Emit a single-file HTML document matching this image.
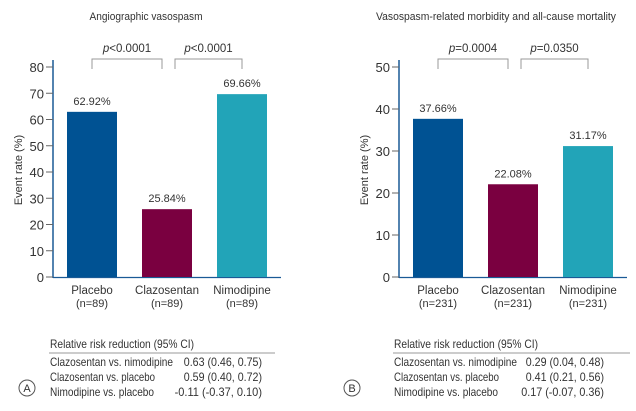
<!DOCTYPE html>
<html><head><meta charset="utf-8"><style>
body{margin:0;background:#fff;font-family:"Liberation Sans",sans-serif;}
svg text{font-family:"Liberation Sans",sans-serif;fill:#333;}
</style></head><body>
<svg id="s" width="636" height="406" xmlns="http://www.w3.org/2000/svg"></svg>
<script>
const categories=["Placebo","Clazosentan","Nimodipine"];
const nA=["(n=89)","(n=89)","(n=89)"];
const nB=["(n=231)","(n=231)","(n=231)"];
const valuesA=[62.92,25.84,69.66];
const valuesB=[37.66,22.08,31.17];
const ticksA=[0,10,20,30,40,50,60,70,80];
const ticksB=[0,10,20,30,40,50];
const pA=["p<0.0001","p<0.0001"];
const pB=["p=0.0004","p=0.0350"];
const rowsLabels=["Clazosentan vs. nimodipine","Clazosentan vs. placebo","Nimodipine vs. placebo"];
const rowsA=["0.63 (0.46, 0.75)","0.59 (0.40, 0.72)","-0.11 (-0.37, 0.10)"];
const rowsB=["0.29 (0.04, 0.48)","0.41 (0.21, 0.56)","0.17 (-0.07, 0.36)"];
const colors=["#005293","#7a0040","#22a4b8"];
const svg=document.getElementById('s');
const NS="http://www.w3.org/2000/svg";
function el(t,a,txt){const e=document.createElementNS(NS,t);for(const k in a)e.setAttribute(k,a[k]);if(txt!=null)e.textContent=txt;svg.appendChild(e);return e;}
function panel(o){
 const y=v=>277-(v/o.max)*210;
 const xs=[o.ax+14,o.ax+89,o.ax+164];
 const bw=50;
 let t=el('text',{x:o.titleX,y:20,'font-size':11,'text-anchor':'middle',textLength:o.titleW,lengthAdjust:'spacingAndGlyphs'},o.title);
 
 let a=el('line',{x1:o.ax,y1:60,x2:o.ax,y2:278,stroke:'#1a5a96','stroke-width':1.5});
 
 let xa=el('line',{x1:o.ax,y1:277.5,x2:o.ax+228,y2:277.5,stroke:'#1a5a96','stroke-width':1.2});
 
 o.ticks.forEach(v=>{
  let l=el('line',{x1:o.ax-7,y1:y(v),x2:o.ax,y2:y(v),stroke:'#666','stroke-width':1});
  
  let tt=el('text',{x:o.ax-9,y:y(v)+5,'font-size':13,'text-anchor':'end'},v);
  
 });
 let yl=el('text',{x:0,y:0,'font-size':11,'text-anchor':'middle',transform:`translate(${o.ax-31},170) rotate(-90)`},'Event rate (%)');
 
 o.vals.forEach((v,i)=>{
  let r=el('rect',{x:xs[i],y:y(v),width:bw,height:277-y(v),fill:colors[i]});
  
  let vt=el('text',{x:xs[i]+bw/2,y:y(v)-7,'font-size':11,'text-anchor':'middle'},v.toFixed(2)+'%');
  
  let c=el('text',{x:xs[i]+bw/2,y:294,'font-size':11.5,'text-anchor':'middle'},categories[i]);
  
  let n=el('text',{x:xs[i]+bw/2,y:307,'font-size':11,'text-anchor':'middle'},o.n[i]);
  
 });
 [[0,1],[1,2]].forEach((p,k)=>{
  const x1=xs[p[0]]+bw/2+(k==1?8:0), x2=xs[p[1]]+bw/2-(k==0?5:0);
  let b=el('polyline',{points:`${x1},69 ${x1},59 ${x2},59 ${x2},69`,fill:'none',stroke:'#999','stroke-width':1});
  
  const s=o.p[k];
  let pt=el('text',{x:(x1+x2)/2,y:52,'font-size':11.5,'text-anchor':'middle'});
  
  const i1=document.createElementNS(NS,'tspan');i1.setAttribute('font-style','italic');i1.textContent='p';pt.appendChild(i1);
  const i2=document.createElementNS(NS,'tspan');i2.textContent=s.slice(1);pt.appendChild(i2);
 });
 let h=el('text',{x:o.tx,y:348,'font-size':12,textLength:144,lengthAdjust:'spacingAndGlyphs'},'Relative risk reduction (95% CI)');
 
 let hl=el('line',{x1:o.tx-1,y1:353,x2:o.tx+o.tw,y2:353,stroke:'#999','stroke-width':1});
 
 rowsLabels.forEach((r,i)=>{
  const lw=[123,105,104][i];
  let a1=el('text',{x:o.tx,y:366+i*15,'font-size':12,textLength:lw,lengthAdjust:'spacingAndGlyphs'},r);
  
  const vw=o.rows[i].length*4.6;
  let a2=el('text',{x:o.vx,y:366+i*15,'font-size':12,'text-anchor':'end',textLength:vw,lengthAdjust:'spacingAndGlyphs'},o.rows[i]);
  
 });
 let c=el('circle',{cx:o.cx,cy:388,r:8,fill:'none',stroke:'#555','stroke-width':1});
 
 let ct=el('text',{x:o.cx,y:392,'font-size':11,'text-anchor':'middle'},o.letter);
 
}
panel({ax:53,max:80,ticks:ticksA,vals:valuesA,n:nA,p:pA,rows:rowsA,title:'Angiographic vasospasm',titleX:146,titleW:113,tx:50,tw:225,vx:262,cx:27,letter:'A'});
panel({ax:399,max:50,ticks:ticksB,vals:valuesB,n:nB,p:pB,rows:rowsB,title:'Vasospasm-related morbidity and all-cause mortality',titleX:496,titleW:240,tx:394,tw:236,vx:604,cx:352,letter:'B'});
</script>
</body></html>
